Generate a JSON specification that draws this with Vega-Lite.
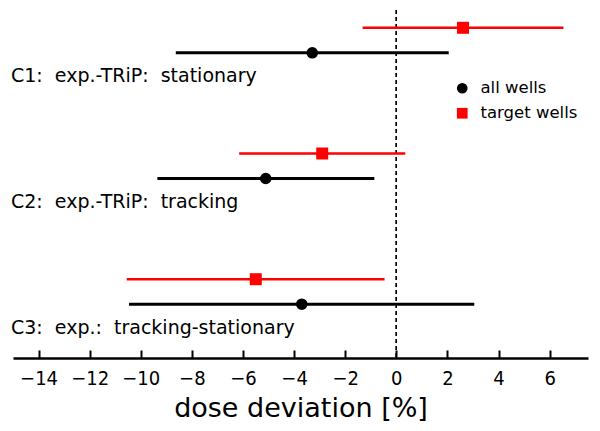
{
  "$schema": "https://vega.github.io/schema/vega-lite/v6.json",
  "width": 575,
  "height": 348,
  "autosize": {"type": "none"},
  "padding": {"left": 13, "top": 10, "right": 12, "bottom": 73},
  "background": "white",
  "config": {
    "view": {"stroke": null},
    "font": "DejaVu Sans"
  },
  "data": {
    "values": [
      {"config": "C1:\u00a0 exp.-TRiP:\u00a0 stationary", "row": 3, "series": "all wells", "mean": -3.29, "lo": -8.63, "hi": 2.05},
      {"config": "C1:\u00a0 exp.-TRiP:\u00a0 stationary", "row": 3, "series": "target wells", "mean": 2.61, "lo": -1.32, "hi": 6.54},
      {"config": "C2:\u00a0 exp.-TRiP:\u00a0 tracking", "row": 2, "series": "all wells", "mean": -5.11, "lo": -9.35, "hi": -0.86},
      {"config": "C2:\u00a0 exp.-TRiP:\u00a0 tracking", "row": 2, "series": "target wells", "mean": -2.9, "lo": -6.15, "hi": 0.35},
      {"config": "C3:\u00a0 exp.:\u00a0 tracking-stationary", "row": 1, "series": "all wells", "mean": -3.7, "lo": -10.46, "hi": 3.05},
      {"config": "C3:\u00a0 exp.:\u00a0 tracking-stationary", "row": 1, "series": "target wells", "mean": -5.5, "lo": -10.55, "hi": -0.46}
    ]
  },
  "encoding": {
    "y": {"field": "row", "type": "quantitative", "scale": {"domain": [0.4726, 3.241], "nice": false, "zero": false}, "axis": null}
  },
  "layer": [
    {
      "mark": {"type": "rule", "strokeDash": [4, 3], "strokeWidth": 1, "color": "black"},
      "encoding": {"x": {"datum": 0, "type": "quantitative"}, "y": null}
    },
    {
      "transform": [{"filter": "datum.series === 'all wells'"}],
      "mark": {"type": "rule", "color": "black", "strokeWidth": 3, "yOffset": 12.5},
      "encoding": {
        "x": {"field": "lo", "type": "quantitative", "scale": {"domain": [-15, 7.5], "nice": false, "zero": false},
          "axis": {"values": [-14, -12, -10, -8, -6, -4, -2, 0, 2, 4, 6], "title": "dose deviation [%]", "grid": false,
            "domainColor": "black", "domainWidth": 2.5, "tickColor": "black", "tickWidth": 2, "tickSize": -8,
            "labelFont": "Liberation Sans Narrow, DejaVu Sans Condensed, Liberation Sans", "labelFontSize": 20, "labelColor": "black", "labelPadding": 18,
            "titleFont": "DejaVu Sans", "titleFontSize": 27, "titleFontWeight": "normal", "titleColor": "black", "titlePadding": 7}},
        "x2": {"field": "hi"}
      }
    },
    {
      "transform": [{"filter": "datum.series === 'target wells'"}],
      "mark": {"type": "rule", "color": "#ff0000", "strokeWidth": 2.5, "yOffset": -12.5},
      "encoding": {
        "x": {"field": "lo", "type": "quantitative"},
        "x2": {"field": "hi"}
      }
    },
    {
      "transform": [{"filter": "datum.series === 'all wells'"}],
      "mark": {"type": "point", "filled": true, "opacity": 1, "size": 135, "yOffset": 12.5},
      "encoding": {
        "x": {"field": "mean", "type": "quantitative"},
        "color": {"field": "series", "type": "nominal", "scale": {"domain": ["all wells", "target wells"], "range": ["black", "#ff0000"]},
          "legend": {"title": null, "orient": "none", "legendX": 441, "legendY": 70, "symbolSize": 115, "labelFontSize": 16.5, "labelFont": "DejaVu Sans", "labelColor": "black", "rowPadding": 8, "symbolOpacity": 1, "labelOffset": 10}},
        "shape": {"field": "series", "type": "nominal", "scale": {"domain": ["all wells", "target wells"], "range": ["circle", "square"]}}
      }
    },
    {
      "transform": [{"filter": "datum.series === 'target wells'"}],
      "mark": {"type": "point", "filled": true, "opacity": 1, "size": 144, "yOffset": -12.5},
      "encoding": {
        "x": {"field": "mean", "type": "quantitative"},
        "color": {"field": "series", "type": "nominal"},
        "shape": {"field": "series", "type": "nominal"}
      }
    },
    {
      "transform": [{"filter": "datum.series === 'all wells'"}],
      "mark": {"type": "text", "align": "left", "baseline": "middle", "dx": -2, "dy": 36, "fontSize": 19, "font": "DejaVu Sans", "color": "black"},
      "encoding": {
        "x": {"datum": -15, "type": "quantitative"},
        "text": {"field": "config"}
      }
    }
  ]
}
